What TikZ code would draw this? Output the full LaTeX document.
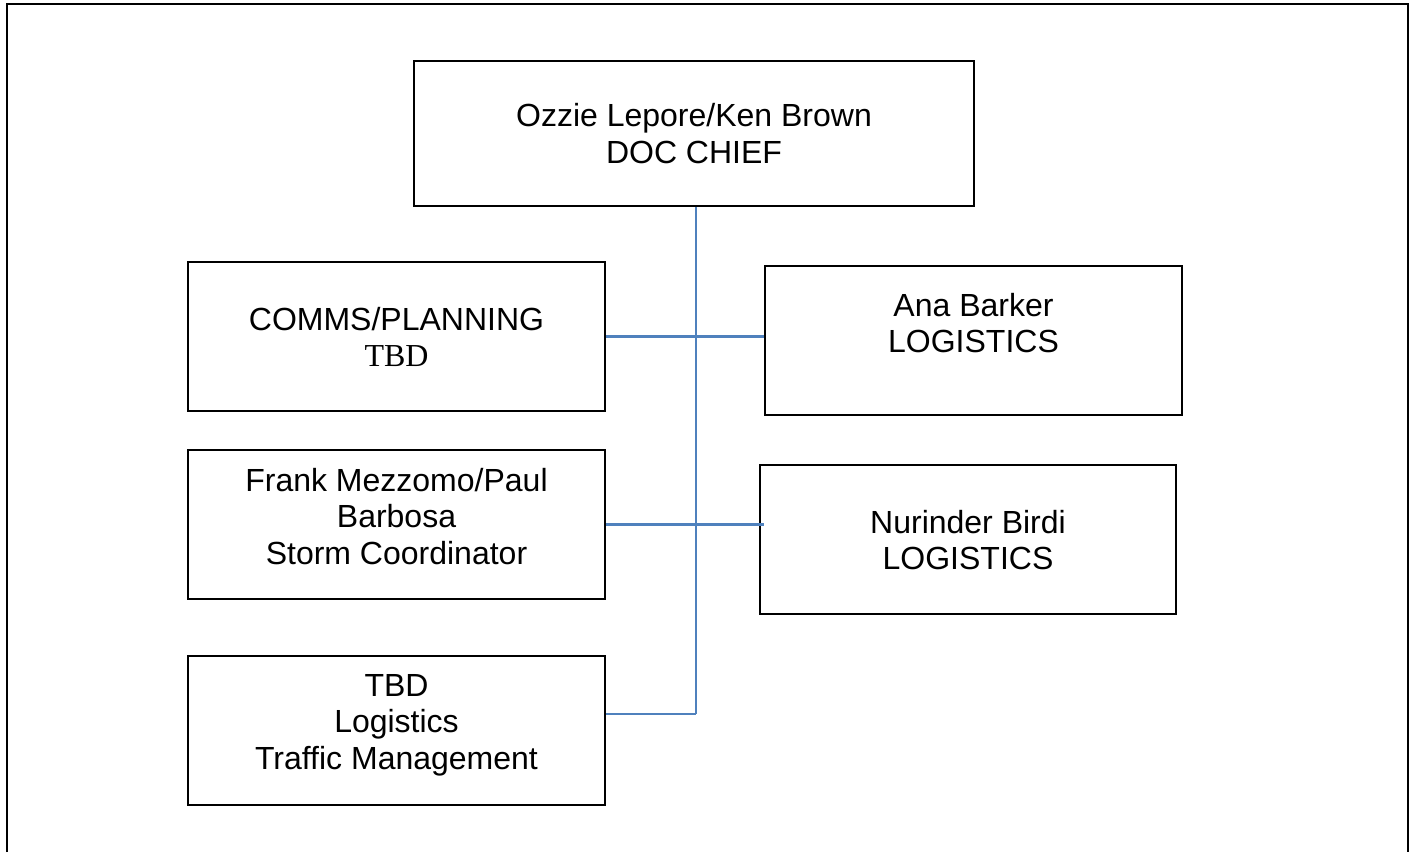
\documentclass[tikz,border=0pt]{standalone}
\usepackage{fontspec}
\setmainfont{Liberation Sans}
\newfontfamily\tbdserif{Liberation Serif}
\definecolor{linkblue}{HTML}{4F81BD}
\begin{document}
\begin{tikzpicture}[x=1pt,y=-1pt,
  box/.style={draw=black,line width=2pt,inner sep=0pt,minimum width=417pt,minimum height=149pt},
  txt/.style={anchor=base,align=center,inner sep=0pt,font=\fontsize{32}{36.5}\selectfont},
  link/.style={draw=linkblue,line width=2.2pt}]
\useasboundingbox (0,0) rectangle (1413,852);
\draw[line width=2.8pt] (7,852) -- (7,4) -- (1408,4) -- (1408,852);
% boxes
\node[box,minimum width=560pt,minimum height=145pt] (top) at (694,133.5) {};
\node[box] (comms) at (396.5,336.5) {};
\node[box] (ana) at (973.5,340.5) {};
\node[box] (frank) at (396.5,524.5) {};
\node[box,minimum width=416pt] (nur) at (968,539.5) {};
\node[box] (tbd) at (396.5,730.5) {};
% texts (anchor = baseline of last line)
\node[txt] (ttop) at (694,163) {Ozzie Lepore/Ken Brown\\DOC CHIEF};
\node[txt] (tcomms) at (396.5,366.5) {COMMS/PLANNING\\{\tbdserif TBD}};
\node[txt] (tana) at (973.5,352.5) {Ana Barker\\LOGISTICS};
\node[txt] (tfrank) at (396.5,564) {Frank Mezzomo/Paul\\Barbosa\\Storm Coordinator};
\node[txt] (tnur) at (968,569.5) {Nurinder Birdi\\LOGISTICS};
\node[txt] (ttbd) at (396.5,769) {TBD\\Logistics\\Traffic Management};
% connectors
\coordinate (j3) at (696,714);
\draw[link] (top.south -| j3) -- (j3);
\draw[link] (comms.east) -- (comms.east -| ana.west);
\draw[link] (frank.east) -- (frank.east -| ana.west);
\draw[link] (tbd.east |- j3) -- (j3);
\end{tikzpicture}
\end{document}
